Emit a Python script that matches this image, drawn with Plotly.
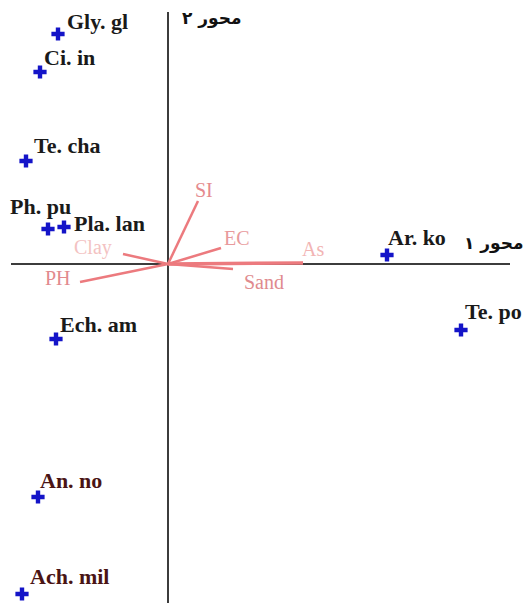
import plotly.graph_objects as go

# species scores (CCA axis 1, axis 2)
species = ["Gly. gl", "Ci. in", "Te. cha", "Ph. pu", "Pla. lan",
           "Ar. ko", "Te. po", "Ech. am", "An. no", "Ach. mil"]
sp_x = [-1.10, -1.28, -1.42, -1.20, -1.04, 2.19, 2.93, -1.12, -1.30, -1.46]
sp_y = [2.30, 1.92, 1.03, 0.35, 0.37, 0.09, -0.66, -0.75, -2.33, -3.30]

# environmental variable arrows
env = ["SI", "EC", "As", "Sand", "Clay", "PH"]
env_x = [0.30, 0.53, 1.35, 0.65, -0.45, -0.88]
env_y = [0.63, 0.16, 0.01, -0.05, 0.10, -0.18]

axis_titles = ["محور ۱", "محور ۲"]

# label placement (pixels: right, up)
sp_shift = [(7, 13), (2, 15), (6, 16), (-40, 23), (8, 4),
            (-1, 18), (2, 19), (2, 15), (0, 17), (6, 18)]
sp_color = ["#1a1a1a", "#1a1a1a", "#1a1a1a", "#1a1a1a", "#1a1a1a",
            "#1a1a1a", "#1a1a1a", "#1a1a1a", "#4a1414", "#4a1414"]
env_shift = [(6, 11), (16, 10), (10, 14), (31, -13), (-30, 7), (-22, 4)]
env_color = ["#e58a8e", "#e89a9c", "#f2b4b4", "#e08a8e", "#f3c2c2", "#e28a8e"]
line_color = "#ec7a7e"

fig = go.Figure()

# axes
fig.add_shape(type="line", x0=0, x1=0, y0=2.52, y1=-3.39,
              line=dict(color="#3c3c3c", width=2), layer="below")
fig.add_shape(type="line", x0=-1.57, x1=3.42, y0=0, y1=0,
              line=dict(color="#3c3c3c", width=2), layer="below")

for name, ex, ey in zip(env, env_x, env_y):
    fig.add_trace(go.Scatter(
        x=[0, ex], y=[0, ey], mode="lines",
        line=dict(color=line_color, width=3.5 if name == "As" else 2.5),
        hoverinfo="skip", showlegend=False
    ))

fig.add_trace(go.Scatter(
    x=sp_x, y=sp_y, mode="markers",
    marker=dict(symbol="cross", size=11, color="#1414c8"),
    text=species, hoverinfo="text", showlegend=False
))

for name, x, y, (dx, dy), c in zip(species, sp_x, sp_y, sp_shift, sp_color):
    fig.add_annotation(
        x=x, y=y, text=name, showarrow=False,
        xanchor="left", yanchor="middle", xshift=dx, yshift=dy,
        font=dict(family="Liberation Serif", size=22, color=c, weight="bold")
    )

for name, x, y, (dx, dy), c in zip(env, env_x, env_y, env_shift, env_color):
    fig.add_annotation(
        x=x, y=y, text=name, showarrow=False,
        xanchor="center", yanchor="middle", xshift=dx, yshift=dy,
        font=dict(family="Liberation Serif", size=20, color=c)
    )

fig.add_annotation(
    x=3.59, y=0, text=axis_titles[0], showarrow=False,
    xanchor="right", yanchor="middle", yshift=21, xshift=-1,
    font=dict(family="DejaVu Sans", size=17, color="#111111", weight="bold")
)
fig.add_annotation(
    x=0.12, y=2.46, text=axis_titles[1], showarrow=False,
    xanchor="left", yanchor="middle",
    font=dict(family="DejaVu Sans", size=17, color="#111111", weight="bold")
)

fig.update_layout(
    width=527, height=603,
    margin=dict(l=0, r=0, t=0, b=0),
    paper_bgcolor="white", plot_bgcolor="white",
    xaxis=dict(range=[-1.68, 3.59], visible=False),
    yaxis=dict(range=[-3.39, 2.64], visible=False),
    showlegend=False
)

fig.write_html("out.html", config={"displayModeBar": False},
               post_script="document.body.style.margin='0';")
